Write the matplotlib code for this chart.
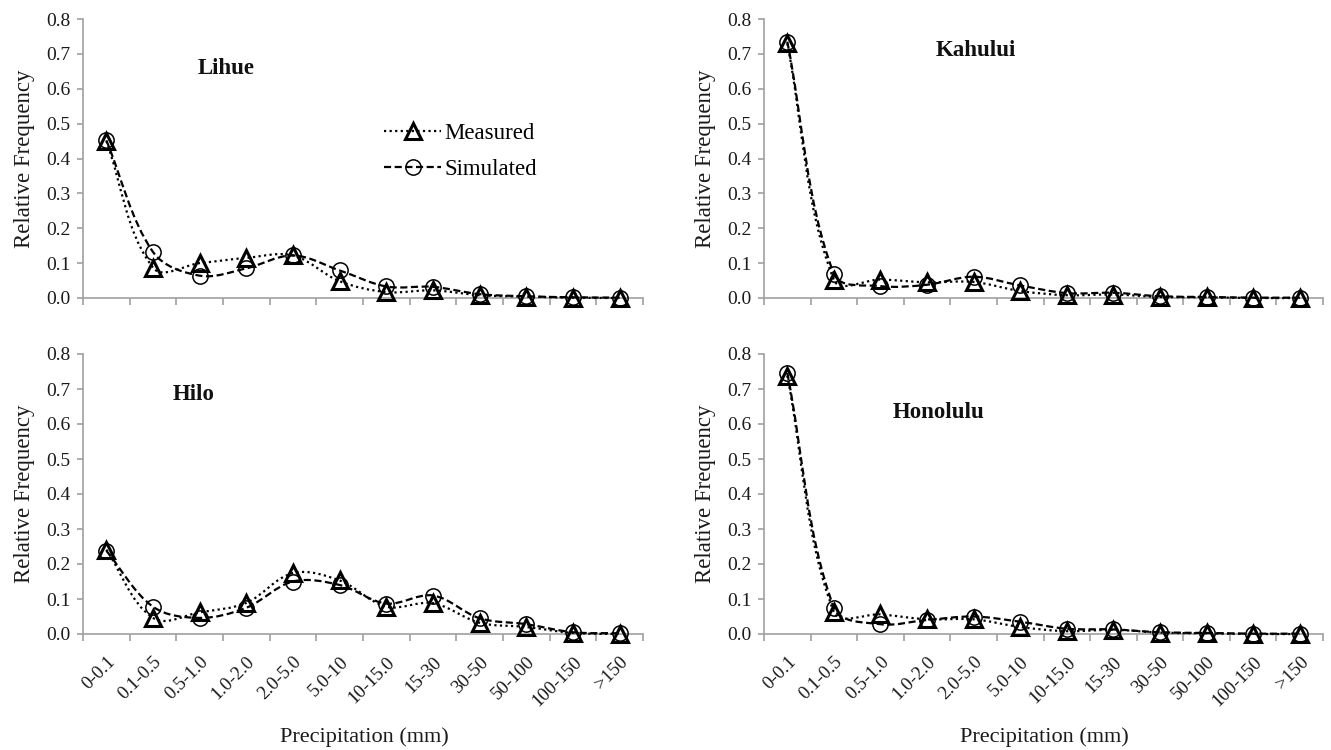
import numpy as np
import matplotlib
matplotlib.use("Agg")
import matplotlib.pyplot as plt
from matplotlib.path import Path
from matplotlib.patches import PathPatch
from matplotlib.lines import Line2D
import matplotlib.transforms as mtransforms

categories = ["0-0.1", "0.1-0.5", "0.5-1.0", "1.0-2.0", "2.0-5.0", "5.0-10",
              "10-15.0", "15-30", "30-50", "50-100", "100-150", ">150"]

lihue_measured = [0.45, 0.087, 0.100, 0.115, 0.122, 0.048, 0.017, 0.022, 0.008, 0.004, 0.001, 0.000]
lihue_simulated = [0.452, 0.132, 0.064, 0.085, 0.122, 0.079, 0.033, 0.032, 0.011, 0.005, 0.002, 0.001]

kahului_measured = [0.73, 0.052, 0.053, 0.045, 0.046, 0.020, 0.008, 0.010, 0.003, 0.002, 0.000, 0.000]
kahului_simulated = [0.735, 0.069, 0.034, 0.038, 0.061, 0.036, 0.014, 0.015, 0.005, 0.003, 0.001, 0.001]

hilo_measured = [0.241, 0.046, 0.062, 0.089, 0.174, 0.153, 0.078, 0.088, 0.032, 0.020, 0.003, 0.000]
hilo_simulated = [0.238, 0.078, 0.046, 0.075, 0.150, 0.140, 0.087, 0.110, 0.045, 0.028, 0.005, 0.002]

honolulu_measured = [0.738, 0.063, 0.056, 0.042, 0.042, 0.020, 0.008, 0.012, 0.004, 0.002, 0.000, 0.000]
honolulu_simulated = [0.746, 0.075, 0.028, 0.040, 0.050, 0.035, 0.015, 0.013, 0.005, 0.003, 0.001, 0.001]

stations = ["Lihue", "Kahului", "Hilo", "Honolulu"]

plt.rcParams['font.family'] = ['Liberation Serif', 'DejaVu Serif']

W, H = 1331, 750
fig = plt.figure(figsize=(W / 100, H / 100), dpi=100)

def ax_rect(x0, x1, ytop, ybot):
    return [x0 / W, 1 - ybot / H, (x1 - x0) / W, (ybot - ytop) / H]

rects = [ax_rect(83, 643, 19, 298), ax_rect(764, 1323, 19, 298),
         ax_rect(83, 643, 354, 634), ax_rect(764, 1323, 354, 634)]
title_pos = [(226, 68), (976, 50), (194, 394), (939, 412)]
xlabel_pos = [(364, 737), (1044, 737)]
data = [(lihue_measured, lihue_simulated), (kahului_measured, kahului_simulated),
        (hilo_measured, hilo_simulated), (honolulu_measured, honolulu_simulated)]

GRAY = "#a0a0a0"
TXT = "#1a1a1a"

def smooth_path(ax, x, y):
    P = ax.transData.transform(np.column_stack([x, y]).astype(float))
    n = len(P)
    U = np.zeros_like(P)
    for i in range(n):
        a = P[max(i - 1, 0)]
        b = P[min(i + 1, n - 1)]
        t = b - a
        U[i] = t / np.hypot(*t)
    verts = [P[0]]
    codes = [Path.MOVETO]
    for i in range(n - 1):
        d = np.hypot(*(P[i + 1] - P[i]))
        c1 = P[i] + U[i] * d / 3.0
        c2 = P[i + 1] - U[i + 1] * d / 3.0
        verts += [c1, c2, P[i + 1]]
        codes += [Path.CURVE4] * 3
    verts = ax.transData.inverted().transform(np.array(verts))
    return Path(verts, codes)

meas_dash = (0, (1.0, 1.5))
sim_dash = (0, (3.2, 1.6))
LW = 1.6
MS = 11

xpos = np.arange(len(categories)) + 0.5
for k, (rect, (meas, sim)) in enumerate(zip(rects, data)):
    ax = fig.add_axes(rect)
    ax.set_xlim(0, 12)
    ax.set_ylim(0, 0.8)
    for s in ["top", "right"]:
        ax.spines[s].set_visible(False)
    for s in ["left", "bottom"]:
        ax.spines[s].set_color(GRAY)
        ax.spines[s].set_linewidth(1.2)
    ax.spines["bottom"].set_zorder(1)

    ax.add_patch(PathPatch(smooth_path(ax, xpos, meas), fill=False, lw=LW,
                           linestyle=meas_dash, edgecolor="black", zorder=3,
                           clip_on=False))
    ax.add_patch(PathPatch(smooth_path(ax, xpos, sim), fill=False, lw=LW,
                           linestyle=sim_dash, edgecolor="black", zorder=3,
                           clip_on=False))
    ax.plot(xpos, sim, linestyle="none", marker="o", markersize=MS,
            markerfacecolor="none", markeredgecolor="black", markeredgewidth=1.1,
            zorder=4, clip_on=False)
    ax.plot(xpos, meas, linestyle="none", marker="^", markersize=MS,
            markerfacecolor="none", markeredgecolor="black", markeredgewidth=2.2,
            zorder=5, clip_on=False)

    yt = np.round(np.arange(0, 0.81, 0.1), 1)
    ax.set_yticks(yt)
    ax.set_yticklabels([f"{v:.1f}" for v in yt])
    ax.tick_params(axis="y", direction="out", length=4, width=1.2, color=GRAY,
                   labelsize=14, pad=5, labelcolor=TXT)
    ax.set_xticks(np.arange(0, 13, 1))
    ax.set_xticklabels([])
    ax.tick_params(axis="x", which="major", direction="out", length=5, width=1.2, color=GRAY)
    ax.set_xticks(xpos, minor=True)
    if k >= 2:
        labs = ax.set_xticklabels(categories, minor=True, rotation=45, ha="right",
                                  rotation_mode="anchor", fontsize=13.5, color=TXT)
        off = mtransforms.ScaledTranslation(8 / 100, 0, fig.dpi_scale_trans)
        for lb in labs:
            lb.set_transform(lb.get_transform() + off)
        tx, ty = xlabel_pos[k - 2]
        fig.text(tx / W, 1 - ty / H, "Precipitation (mm)", fontsize=16,
                 ha="center", va="center", color=TXT)
    else:
        ax.set_xticklabels([], minor=True)
    ax.tick_params(axis="x", which="minor", length=0, pad=14)

    ax.set_ylabel("Relative Frequency", fontsize=16.5, color=TXT, labelpad=8)

    tx, ty = title_pos[k]
    fig.text(tx / W, 1 - ty / H, stations[k], fontsize=16.5, fontweight="bold",
             ha="center", va="center", color="#111111")

    if k == 0:
        handles = [
            Line2D([], [], color="black", lw=LW, linestyle=meas_dash, marker="^",
                   markersize=MS, markerfacecolor="none", markeredgewidth=2.2),
            Line2D([], [], color="black", lw=LW, linestyle=sim_dash, marker="o",
                   markersize=MS, markerfacecolor="none", markeredgewidth=1.1),
        ]
        ax.legend(handles, ["Measured", "Simulated"], loc="upper left",
                  bbox_to_anchor=((384 - 83) / (643 - 83), (298 - 123) / 279),
                  frameon=False, fontsize=16.5, handlelength=2.5, handletextpad=0.15,
                  labelspacing=0.65, borderaxespad=0, borderpad=0)

fig.savefig("out.png", dpi=100)
